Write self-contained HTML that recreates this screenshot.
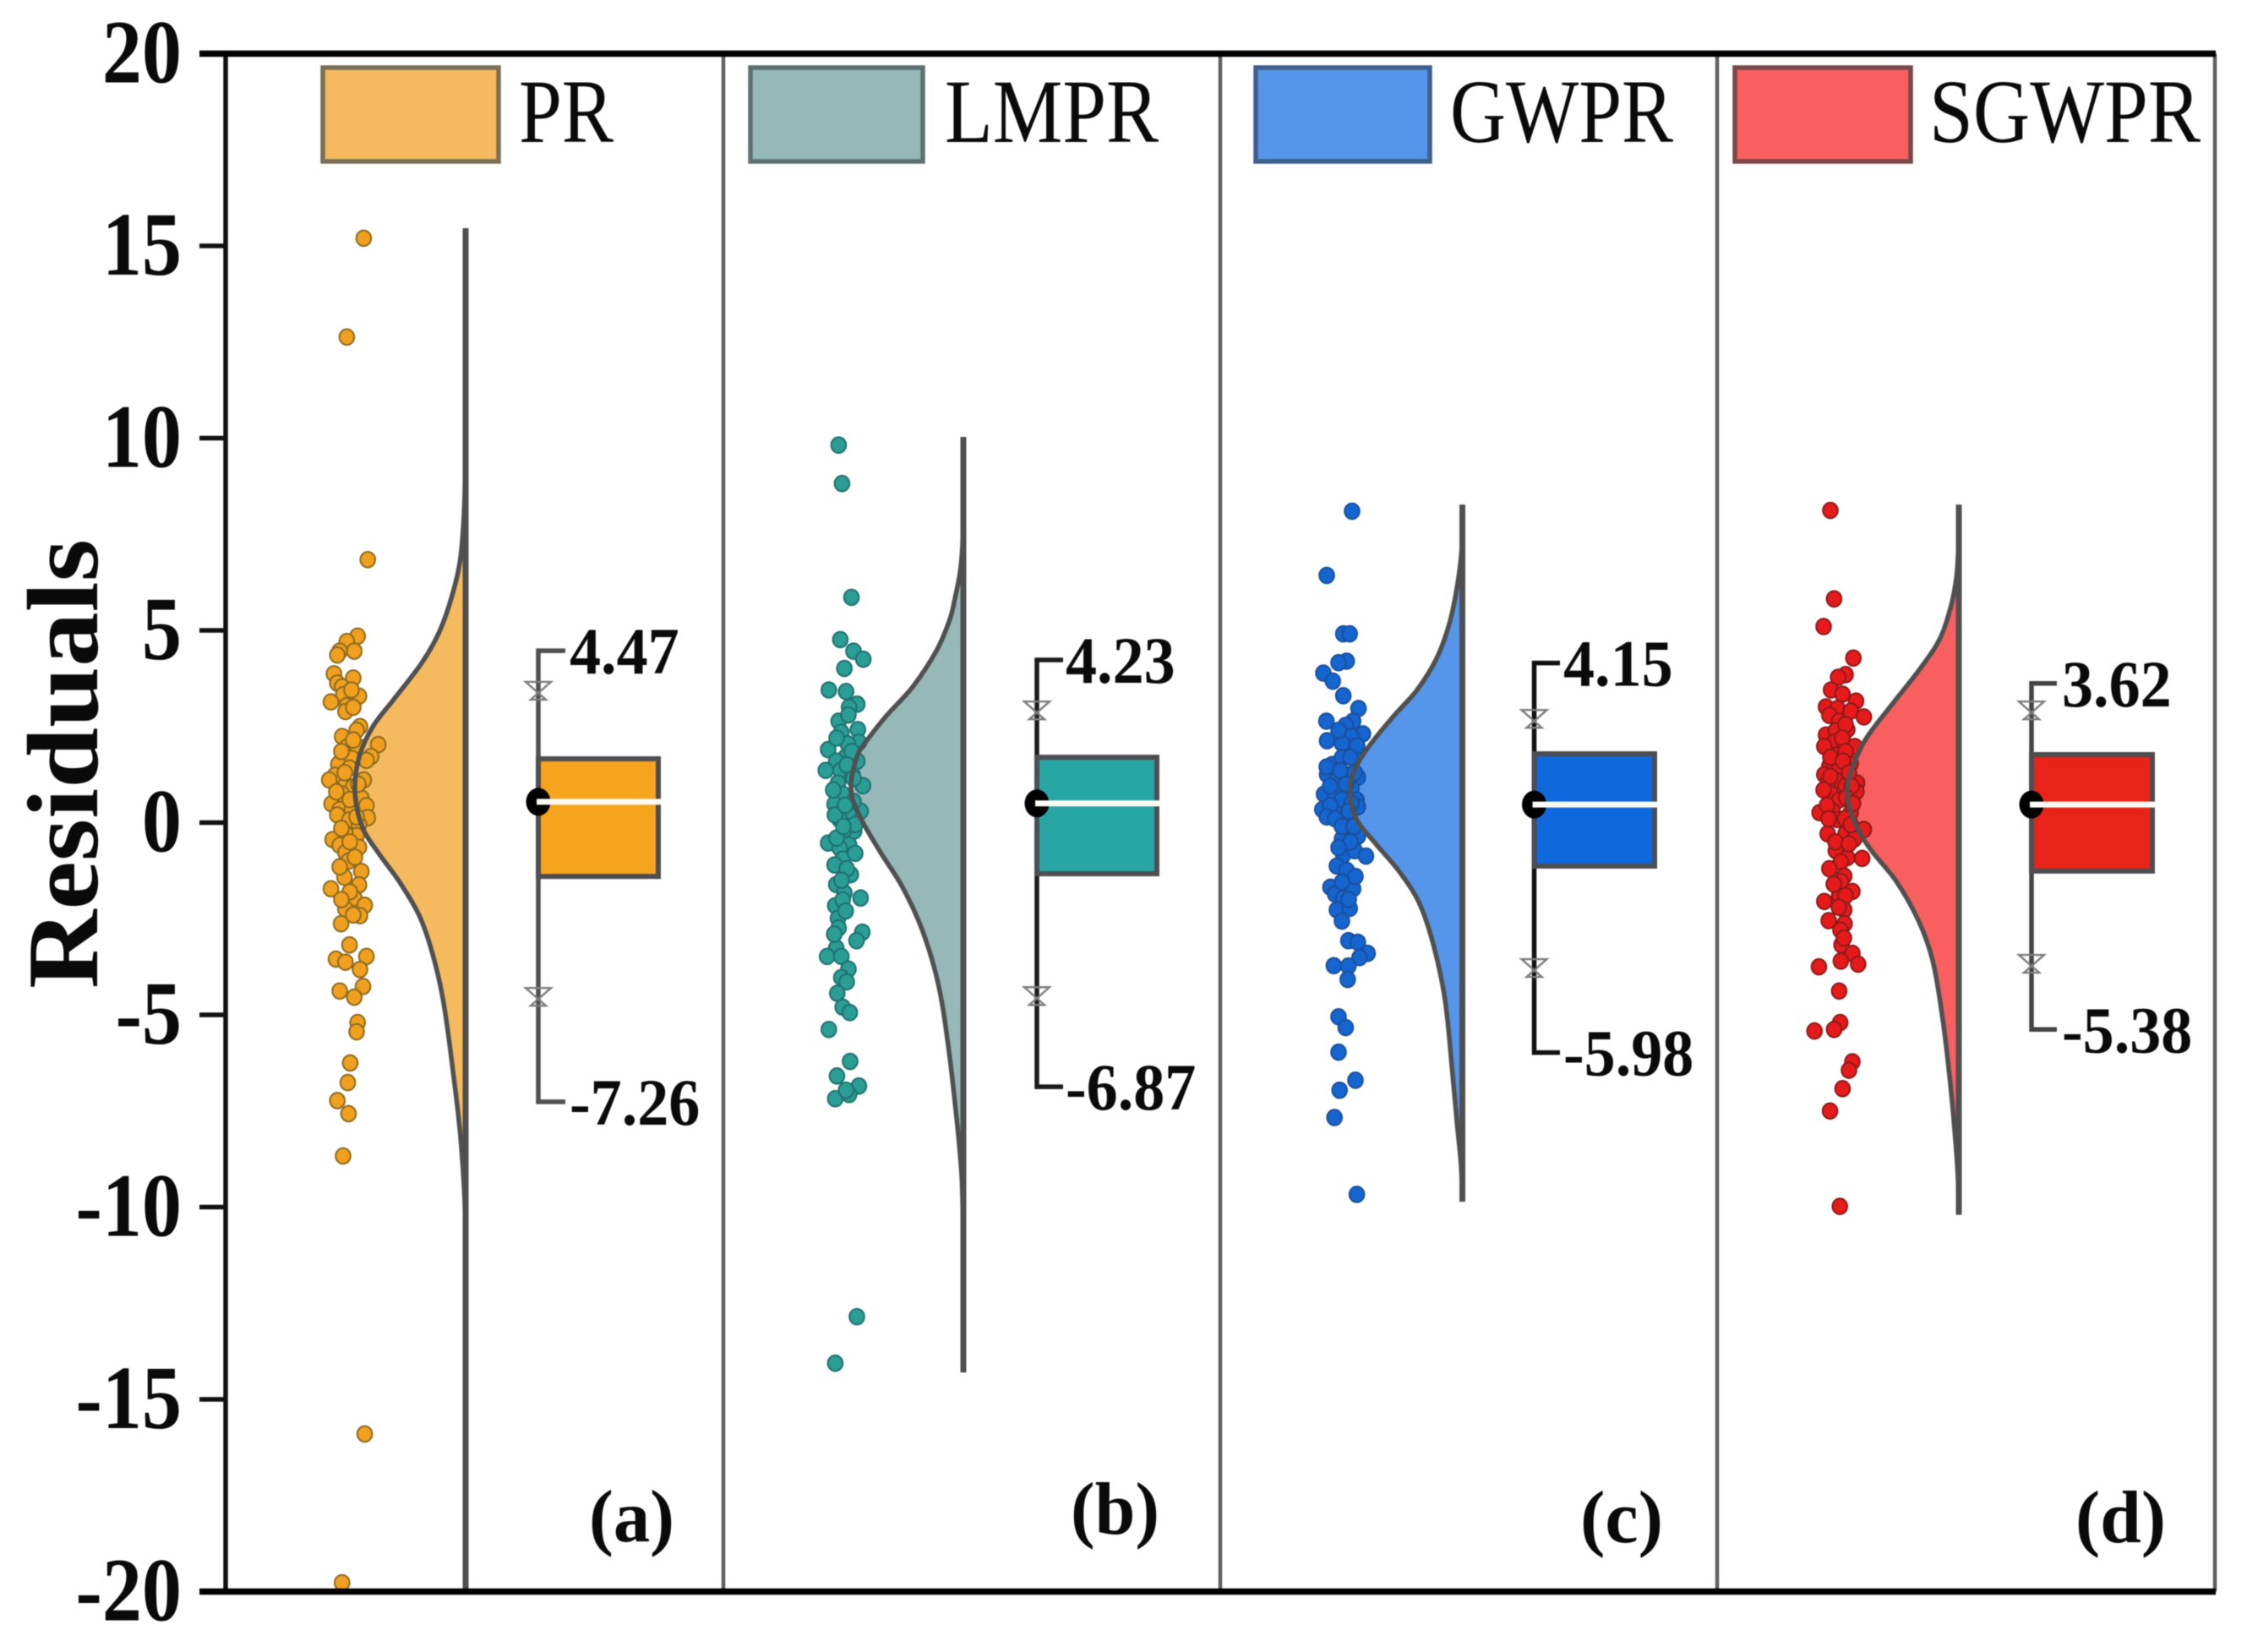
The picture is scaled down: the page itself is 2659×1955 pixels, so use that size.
<!DOCTYPE html>
<html lang="en">
<head>
<meta charset="utf-8">
<title>Residuals raincloud chart</title>
<style>
html,body{margin:0;padding:0;background:#fff;width:2659px;height:1955px;overflow:hidden}
svg{display:block;filter:blur(0.6px)}
text{font-family:"Liberation Serif",serif;fill:#0a0a0a}
</style>
</head>
<body>
<svg id="chart" xmlns="http://www.w3.org/2000/svg" width="2659" height="1955" viewBox="0 0 2659 1955"></svg>
<script>
const yTicks = [20, 15, 10, 5, 0, -5, -10, -15, -20];
const seriesNames = ['PR', 'LMPR', 'GWPR', 'SGWPR'];
const panelLetters = ['(a)', '(b)', '(c)', '(d)'];

const whiskerHigh = [4.47, 4.23, 4.15, 3.62];
const whiskerLow = [-7.26, -6.87, -5.98, -5.38];
const boxQ3 = [1.66, 1.70, 1.79, 1.77];
const boxQ1 = [-1.40, -1.33, -1.13, -1.26];
const boxMedian = [0.54, 0.50, 0.47, 0.47];
const starHigh = [3.44, 2.93, 2.71, 2.93];
const starLow = [-4.52, -4.50, -3.77, -3.66];

const densityValuesPR = [15.46, 10, 8.2, 6.82, 5.83, 4.95, 4.16, 3.18, 2.49, 1.72, 0.82, -0.14, -0.82, -1.53, -2.41, -3.4, -4.67, -6.63, -8.19, -9.92, -12, -20];
const densityPR = [0, 0.002, 0.012, 0.05, 0.13, 0.24, 0.395, 0.656, 0.84, 0.96, 1, 0.93, 0.78, 0.6, 0.42, 0.3, 0.2, 0.107, 0.046, 0.008, 0.002, 0];
const densityValuesLMPR = [10.03, 8.2, 7.2, 6.5, 5.9, 5.29, 4.47, 3.53, 2.78, 2.21, 1.77, 0.85, 0.14, -0.74, -1.68, -2.78, -4.16, -5.79, -7.9, -9.37, -11.6, -14.3];
const densityLMPR = [0, 0.002, 0.008, 0.03, 0.07, 0.12, 0.24, 0.451, 0.684, 0.84, 0.94, 1, 0.917, 0.744, 0.541, 0.368, 0.226, 0.135, 0.053, 0.012, 0.002, 0];
const densityValuesGWPR = [8.27, 7.11, 6.08, 5.13, 4.25, 3.44, 2.78, 1.99, 1.4, 0.8, 0.08, -0.52, -1.24, -2.05, -3.15, -4.6, -6.45, -7.9, -8.9, -9.86];
const densityGWPR = [0, 0.006, 0.05, 0.12, 0.233, 0.406, 0.609, 0.83, 0.955, 1, 0.94, 0.78, 0.57, 0.39, 0.26, 0.155, 0.09, 0.045, 0.012, 0];
const densityValuesSGWPR = [8.27, 7.11, 6.38, 5.64, 4.76, 3.97, 3.0, 2.21, 1.55, 0.89, 0.3, -0.3, -0.74, -1.53, -2.56, -3.59, -5.13, -6.8, -8.27, -9.37, -10.2];
const densitySGWPR = [0, 0.005, 0.022, 0.07, 0.174, 0.356, 0.62, 0.826, 0.939, 1, 0.97, 0.88, 0.78, 0.56, 0.36, 0.235, 0.144, 0.076, 0.03, 0.006, 0];

const residualsPR = [15.2, 12.63, 6.84, 4.85, 4.71, 4.46, 4.46, 4.36, 3.87, 3.76, 3.63, 3.53, 3.29, 3.33, 3.14, 3.04, 2.89, 2.5, 2.4, 2.24, 2.03, 1.96, 2.01, 1.72, 1.67, 1.62, 1.52, 1.42, 1.23, 1.11, 1.11, 0.98, 0.93, 0.74, 0.64, 0.49, 0.44, 0.34, 0.34, 0.2, 0.13, 0.07, -0.05, -0.34, -0.29, -0.44, -0.59, -0.64, -0.78, -1, -1.27, -1.42, -1.62, -1.72, -1.96, -2.15, -2.25, -2.42, -2.63, -3.18, -3.48, -3.55, -3.63, -3.82, -4.26, -4.38, -4.54, -5.2, -5.44, -6.25, -6.76, -7.23, -7.57, -8.67, -15.9, -19.77, 2.15, 1.85, 1.3, 1.0, 0.8, 0.6, 0.15, -0.15, -0.5, -0.9, -1.15, -1.8, -2.0, -2.4, 3.0, 3.45];
const jitterPR = [0.31, -0.19, 0.43, 0.13, -0.19, -0.4, 0.03, -0.47, -0.57, 0, -0.47, -0.33, 0.17, -0.29, -0.66, -0.19, -0.23, 0.2, 0.1, -0.33, 0.74, -0.19, 0.1, 0.53, -0.04, 0.39, -0.44, -0.11, -0.54, -0.71, 0.31, -0.23, 0, -0.33, 0.24, -0.64, 0.39, -0.4, -0.04, -0.47, 0.43, -0.11, 0.17, 0.1, -0.23, -0.61, -0.4, 0.17, -0.23, -0.14, 0.24, -0.26, 0.17, -0.66, 0.03, 0.34, -0.23, 0.2, -0.36, -0.11, 0.39, -0.51, -0.23, 0.2, 0.29, -0.4, 0.03, 0.13, 0.1, -0.09, -0.16, -0.47, -0.14, -0.3, 0.34, -0.33, 0.0, -0.35, -0.25, 0.15, -0.5, -0.1, 0.1, -0.35, -0.1, 0.05, -0.4, -0.1, -0.35, 0.0, 0.0, -0.05];

const residualsLMPR = [9.82, 8.82, 5.86, 4.76, 4.46, 4.25, 4.01, 3.45, 3.41, 3.08, 3.0, 2.64, 2.42, 2.35, 2.09, 2.05, 1.9, 1.72, 1.6, 1.36, 1.36, 0.96, 1.03, 1.25, 0.74, 1.6, 0.48, 0.3, 0.3, 0.08, -0.22, -0.18, -0.53, -0.58, -0.66, -0.95, -1.1, -1.35, -1.61, -1.83, -1.96, -2.16, -2.01, -2.49, -2.74, -2.85, -3.07, -3.26, -3.48, -3.48, -3.81, -4.03, -4.14, -4.44, -4.8, -4.94, -5.38, -6.21, -6.59, -6.85, -7.07, -7.18, -6.96, -12.85, -14.06, 2.8, 2.2, 1.85, 1.5, 1.15, 0.85, 0.55, 0.2, -0.05, -0.4, -0.8, -1.2, -1.5, -2.3, -2.9, -0.1, 0.45];
const jitterLMPR = [-0.19, -0.09, 0.19, -0.14, 0.25, 0.54, -0.02, -0.48, 0.03, 0.36, 0.12, -0.19, 0.38, -0.11, 0.41, 0.08, -0.5, 0.03, -0.26, -0.57, -0.13, 0.53, -0.21, 0.22, -0.07, 0.36, -0.31, 0.46, 0.12, -0.16, 0.27, -0.02, -0.5, 0.12, -0.16, -0.07, -0.31, 0.17, -0.26, -0.02, 0.46, -0.29, -0.07, -0.21, -0.19, 0.51, 0.34, -0.26, -0.53, -0.11, 0.1, -0.11, 0.05, -0.23, -0.07, 0.14, -0.48, 0.15, -0.24, 0.41, 0.12, -0.29, 0.03, 0.35, -0.29, 0.1, -0.25, 0.2, 0.05, 0.25, -0.35, 0.25, -0.3, 0.3, -0.25, 0.3, 0.05, -0.1, 0.02, -0.32, -0.05, 0.0];

const residualsGWPR = [8.1, 6.43, 4.91, 4.91, 4.2, 4.16, 3.89, 3.68, 3.3, 2.97, 2.64, 2.64, 2.53, 2.31, 2.13, 2.24, 2.06, 1.84, 1.51, 1.69, 1.18, 1.25, 1.1, 1.25, 0.89, 0.74, 0.74, 0.59, 0.34, 0.23, 0.08, 0.41, -0.21, -0.43, -0.36, -0.84, -0.73, -0.87, -1.13, -1.24, -1.68, -1.72, -1.86, -1.97, -2.27, -2.23, -2.56, -3.07, -3.11, -3.4, -3.51, -3.72, -3.73, -4.08, -5.05, -5.33, -5.97, -6.7, -6.96, -7.67, -9.67, 2.4, 2.0, 1.7, 1.45, 1.35, 1.0, 0.95, 0.6, 0.45, 0.5, 0.15, 0.1, -0.1, -0.1, -0.5, -0.65, -1.4, -2.0, -1.55, 0.3, 1.3];
const jitterGWPR = [0.2, -0.55, -0.06, 0.13, 0.04, -0.2, -0.65, -0.37, -0.06, 0.39, -0.56, 0.23, 0.01, 0.52, -0.54, 0.18, -0.1, 0.28, -0.39, -0.1, 0.37, -0.54, -0.25, 0.04, 0.18, -0.63, -0.3, 0.33, -0.68, -0.2, 0.04, 0.37, 0.13, -0.1, 0.37, -0.06, 0.28, 0.61, -0.25, 0.04, -0.44, 0.23, -0.3, -0.06, -0.25, 0.13, -0.1, 0.09, 0.37, 0.66, 0.42, -0.34, 0.09, 0.07, -0.2, 0.01, -0.2, 0.3, -0.17, -0.32, 0.34, -0.2, 0.35, 0.15, -0.55, -0.15, 0.02, -0.45, -0.1, -0.45, 0.18, -0.55, -0.3, -0.1, 0.25, 0.15, -0.2, 0.3, 0.1, -0.1, 0.1, 0.28];

const residualsSGWPR = [8.12, 5.82, 5.1, 4.28, 3.85, 3.78, 3.45, 3.34, 3.16, 3.01, 2.97, 2.9, 2.75, 2.79, 2.64, 2.42, 2.28, 2.39, 2.09, 2.06, 1.98, 1.98, 1.76, 1.54, 1.47, 1.4, 1.25, 1.03, 1.1, 1.03, 0.96, 0.74, 0.81, 0.59, 0.26, 0.3, 0.26, 0.08, -0.29, -0.29, -0.18, -0.43, -0.73, -0.93, -0.91, -1.02, -1.2, -1.39, -1.53, -1.79, -1.9, -1.9, -2.05, -2.27, -2.55, -2.63, -3.18, -3.4, -3.6, -3.68, -3.75, -4.38, -5.2, -5.38, -5.42, -6.22, -6.44, -6.92, -7.5, -9.98, 2.55, 2.2, 1.85, 1.7, 1.6, 1.3, 1.2, 0.95, 0.85, 0.65, 0.45, 0.5, 0.1, 0.1, -0.05, -0.5, -0.55, -1.6, -2.2, -2.8, -3.0];
const jitterSGWPR = [-0.25, -0.14, -0.45, 0.43, 0.2, -0.02, -0.23, 0.11, 0.51, -0.38, -0.04, 0.35, 0.74, -0.28, 0.01, 0.25, -0.38, -0.09, -0.14, 0.16, 0.47, -0.43, -0.04, 0.35, -0.28, 0.01, -0.43, 0.54, -0.09, -0.33, 0.2, -0.23, 0.52, 0.01, -0.57, -0.18, 0.35, -0.04, -0.33, 0.2, 0.74, 0.45, -0.09, 0.69, 0.25, 0.06, -0.28, 0.16, 0.06, 0.4, 0.01, 0.2, -0.43, 0.16, -0.3, 0.17, 0.08, 0.4, 0.06, 0.57, -0.59, 0.01, 0.04, -0.14, -0.72, 0.4, 0.3, 0.11, -0.26, 0.03, 0.2, 0.1, 0.2, -0.25, 0.12, 0.3, -0.25, 0.38, -0.45, 0.22, -0.35, 0.42, -0.3, 0.18, 0.35, -0.1, 0.3, -0.15, 0.0, 0.05, 0.15];

const densityV = [densityValuesPR, densityValuesLMPR, densityValuesGWPR, densityValuesSGWPR];
const densityD = [densityPR, densityLMPR, densityGWPR, densitySGWPR];
const residuals = [residualsPR, residualsLMPR, residualsGWPR, residualsSGWPR];
const jitter = [jitterPR, jitterLMPR, jitterGWPR, jitterSGWPR];

const layout = [
  {key:'pr', base:551, center:418, whisk:637, right:779, capEnd:669, lx:674, lgX:382, lgW:208, txX:614, txW:112, violinW:131, letterX:697, letterY:1824, letterW:101, viol:'#F6BA5E', box:'#F6A31E', dot:'#F0A01E', dotEdge:'#8a6a20', whiskColor:'#505050', lgEdge:'#7b6f57'},
  {key:'lmpr', base:1140, center:1000, whisk:1227, right:1369, capEnd:1258, lx:1261, lgX:888, lgW:204, txX:1118, txW:253, violinW:133, letterX:1267, letterY:1815, letterW:105, viol:'#96B8B8', box:'#27A6A5', dot:'#2A9D94', dotEdge:'#1f6f70', whiskColor:'#1c1c1c', lgEdge:'#5e7170'},
  {key:'gwpr', base:1730.5, center:1592, whisk:1815.5, right:1958, capEnd:1846, lx:1850, lgX:1486, lgW:206, txX:1716, txW:264, violinW:133, letterX:1870, letterY:1825, letterW:98, viol:'#5595EA', box:'#0F68DC', dot:'#1565D0', dotEdge:'#1a4f9a', whiskColor:'#111111', lgEdge:'#3f5f8c'},
  {key:'sgwpr', base:2318, center:2176, whisk:2404, right:2547, capEnd:2434, lx:2440, lgX:2053, lgW:208, txX:2283, txW:321, violinW:132, letterX:2456, letterY:1825, letterW:107, viol:'#F95F5F', box:'#E82418', dot:'#E61A1A', dotEdge:'#8a1a1a', whiskColor:'#444444', lgEdge:'#7a4848'}
];

const NS = 'http://www.w3.org/2000/svg';
const svg = document.getElementById('chart');
const Y0 = 973.5, PX_PER_UNIT = 45.5;
function yScale(v) { return Y0 - v * PX_PER_UNIT; }

function make(tag, attrs, parent) {
  const el = document.createElementNS(NS, tag);
  for (const k in attrs) el.setAttribute(k, attrs[k]);
  (parent || svg).appendChild(el);
  return el;
}
function smooth(pts) {
  let d = 'M' + pts[0][0].toFixed(1) + ',' + pts[0][1].toFixed(1);
  for (let i = 0; i < pts.length - 1; i++) {
    const p0 = pts[Math.max(i - 1, 0)], p1 = pts[i], p2 = pts[i + 1], p3 = pts[Math.min(i + 2, pts.length - 1)];
    const h = p2[1] - p1[1];
    const m1 = (p2[0] - p0[0]) / ((p2[1] - p0[1]) || 1), m2 = (p3[0] - p1[0]) / ((p3[1] - p1[1]) || 1);
    const c1x = p1[0] + m1 * h / 3, c1y = p1[1] + h / 3;
    const c2x = p2[0] - m2 * h / 3, c2y = p2[1] - h / 3;
    d += 'C' + c1x.toFixed(1) + ',' + c1y.toFixed(1) + ' ' + c2x.toFixed(1) + ',' + c2y.toFixed(1) + ' ' + p2[0].toFixed(1) + ',' + p2[1].toFixed(1);
  }
  return d;
}

/* dividers */
const dividerXs = [856, 1444, 2032, 2621];
dividerXs.forEach(function (x, i) {
  const el = make('line', {x1:x, x2:x, y1:yScale(20), y2:yScale(-20), stroke:'#5f5f5f', 'stroke-width':4.5});
  
  
});

/* panels */
layout.forEach(function (p, i) {
  const g = make('g', {});
  
  

  /* legend */
  const lg = make('rect', {x:p.lgX, y:80, width:p.lgW, height:111, fill:p.viol, stroke:p.lgEdge, 'stroke-width':5.5}, g);
  
  
  const lt = make('text', {x:p.txX, y:168, 'font-size':107, textLength:p.txW, lengthAdjust:'spacingAndGlyphs'}, g);
  lt.textContent = seriesNames[i];
  
  

  /* violin */
  const pts = densityV[i].map(function (v, k) { return [p.base - densityD[i][k] * p.violinW, yScale(v)]; });
  const curve = smooth(pts);
  const fill = make('path', {d:curve + 'L' + p.base + ',' + pts[pts.length - 1][1] + 'L' + p.base + ',' + pts[0][1] + 'Z', fill:p.viol, stroke:'none'}, g);
  
  

  /* points */
  const dots = make('g', {}, g);
  
  
  residuals[i].forEach(function (v, k) {
    const c = make('ellipse', {cx:p.center + jitter[i][k] * 40, cy:yScale(v), rx:8.8, ry:9.3, fill:p.dot, stroke:p.dotEdge, 'stroke-width':2}, dots);
    
    
  });

  /* violin outline and base */
  const line = make('path', {d:curve, fill:'none', stroke:'#505050', 'stroke-width':5.5}, g);
  
  
  const base = make('line', {x1:p.base, x2:p.base, y1:pts[0][1], y2:pts[pts.length - 1][1], stroke:'#505050', 'stroke-width':7}, g);
  
  

  /* whisker */
  const yHi = yScale(whiskerHigh[i]), yLo = yScale(whiskerLow[i]);
  const wh = make('path', {d:'M' + p.capEnd + ',' + yHi + 'H' + p.whisk + 'V' + yLo + 'H' + p.capEnd, fill:'none', stroke:p.whiskColor, 'stroke-width':5.5}, g);
  
  

  /* stars */
  [starHigh[i], starLow[i]].forEach(function (v, k) {
    const sy = yScale(v);
    const s = make('path', {d:'M' + (p.whisk - 15) + ',' + (sy - 10) + 'H' + (p.whisk + 15) + 'L' + (p.whisk - 9) + ',' + (sy + 11) + 'H' + (p.whisk + 9) + 'Z', fill:'none', stroke:'#7d7d7d', 'stroke-width':2.4}, g);
    
    
  });

  /* box */
  const yQ3 = yScale(boxQ3[i]), yQ1 = yScale(boxQ1[i]), yMed = yScale(boxMedian[i]);
  const box = make('rect', {x:p.whisk, y:yQ3, width:p.right - p.whisk, height:yQ1 - yQ3, fill:p.box, stroke:'#4d4d52', 'stroke-width':6}, g);
  
  
  const mean = make('ellipse', {cx:p.whisk, cy:yMed, rx:14.5, ry:16.5, fill:'#000'}, g);
  
  
  const med = make('line', {x1:p.whisk - 2, x2:p.right + 3, y1:yMed, y2:yMed, stroke:'#fdfbf4', 'stroke-width':7}, g);
  
  

  /* printed values */
  [whiskerHigh[i], whiskerLow[i]].forEach(function (v, k) {
    const t = make('text', {transform:'translate(' + p.lx + ',' + (yScale(v) + 27) + ') scale(0.95,1)', 'font-size':78, 'font-weight':'bold'}, g);
    t.textContent = v.toFixed(2);
    
    
  });

  /* panel letter */
  const letter = make('text', {x:p.letterX, y:p.letterY, 'font-size':88, 'font-weight':'bold', textLength:p.letterW, lengthAdjust:'spacingAndGlyphs'}, g);
  letter.textContent = panelLetters[i];
  
  
});

/* axes */
const axisLeft = make('line', {x1:267, x2:267, y1:yScale(20), y2:yScale(-20), stroke:'#111', 'stroke-width':5.5});


const axisTop = make('line', {x1:236, x2:2622, y1:yScale(20), y2:yScale(20), stroke:'#000', 'stroke-width':7.5});


const axisBottom = make('line', {x1:236, x2:2622, y1:yScale(-20), y2:yScale(-20), stroke:'#000', 'stroke-width':7.5});



yTicks.forEach(function (v) {
  const y = yScale(v);
  if (Math.abs(v) !== 20) {
    const tk = make('line', {x1:236, x2:267, y1:y, y2:y, stroke:'#111', 'stroke-width':5.5});
    
    
  }
  const t = make('text', {transform:'translate(215,' + (y + 34) + ') scale(0.88,1)', 'font-size':107, 'font-weight':'bold', 'text-anchor':'end'});
  t.textContent = String(v);
  
  
});

const title = make('text', {transform:'translate(115,1170) rotate(-90)', 'font-size':120, 'font-weight':'bold', textLength:532, lengthAdjust:'spacingAndGlyphs'});
title.textContent = 'Residuals';


</script>
</body>
</html>
